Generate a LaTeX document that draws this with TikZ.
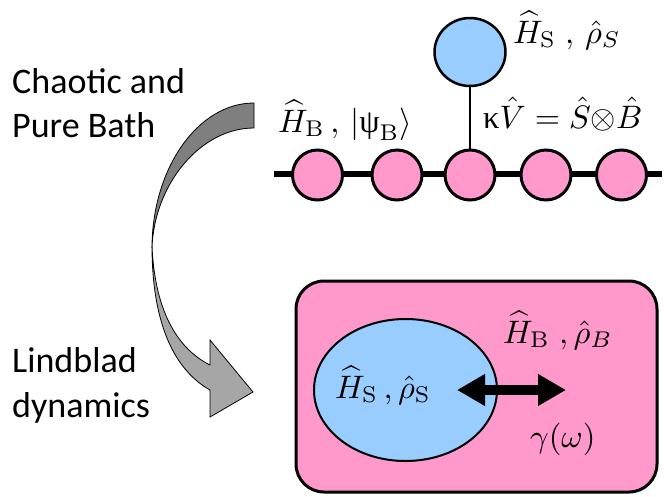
\documentclass[tikz,border=0pt]{standalone}
\usepackage{graphicx}
\usepackage{fontspec}
\setsansfont{Carlito}
\newfontfamily\grk{Liberation Serif}
\usetikzlibrary{shapes.geometric,arrows.meta}
\definecolor{pinkb}{HTML}{FF99CC}
\definecolor{bluec}{HTML}{99CCFF}
\definecolor{arrowdark}{HTML}{7F7F7F}
\definecolor{arrowlight}{HTML}{A6A6A6}
\newcommand\MathLbl[1]{\scalebox{3.25}{$#1$}}
\begin{document}
\begin{tikzpicture}[x=1pt,y=-1pt,
  lbl/.style={font=\sffamily\fontsize{36}{40}\selectfont, anchor=base west, inner sep=0pt},
  mlbl/.style={anchor=base west, inner sep=0pt},
  bath/.style={circle, draw=black, line width=3pt, fill=pinkb, minimum size=50pt, inner sep=0pt},
  sysnode/.style={ellipse, draw=black, line width=2.5pt, fill=bluec, inner sep=0pt},
  chain/.style={line width=6.5pt, draw=black},
  bigarrow/.style={draw=black, line width=0.8pt, line join=miter}
]
\useasboundingbox (0,0) rectangle (668,496);

% texts
\node[lbl] (t1) at (12,93) {Chaotic and};
\node[lbl] (t2) at (12,137) {Pure Bath};
\node[lbl] (t3) at (12,372) {Lindblad};
\node[lbl] (t4) at (12,417) {dynamics};

% curved arrow
\filldraw[bigarrow, fill=arrowdark] (254,103) .. controls (197.7,103) and (152,168.8) .. (152,248)
  .. controls (154,185) and (200,128) .. (254,128) -- cycle;
\filldraw[bigarrow, fill=arrowlight] (152,246) .. controls (152,330) and (178,372) .. (210,390)
  -- (210,417) -- (253,392) -- (210,340) -- (210,365)
  .. controls (180,350) and (155,315) .. (152,246) -- cycle;

% bath chain
\coordinate (cl) at (274,174);
\coordinate (cr) at (662,174);
\draw[chain] (cl) -- (cr);
\node[bath] (b1) at (317.5,175) {};
\node[bath] (b2) at (397,175) {};
\node[bath] (b3) at (470,175) {};
\node[bath] (b4) at (546,175) {};
\node[bath] (b5) at (621.5,175) {};

% system spin
\node[sysnode, minimum width=71pt, minimum height=68pt] (s) at (470,52) {};
\draw[line width=1.2pt] (s) -- (b3);

\node[mlbl] (lS) at (513,43) {\MathLbl{\widehat H_{\mathrm{S}}\;,\,\hat\rho_S}};
\node[mlbl] (lB) at (278,132) {\MathLbl{\widehat H_{\mathrm{B}}\,,\,|\mbox{\grk ψ}_{\mathrm{B}}\rangle}};
\node[mlbl] (lV) at (483,128) {\MathLbl{\mbox{\grk κ}\hat V = \hat S{\otimes}\hat B}};

% bottom box
\draw[line width=3pt, fill=pinkb, rounded corners=28pt] (296,281) rectangle (657,492);
\node[sysnode, line width=2pt, minimum width=183pt, minimum height=142pt] (se) at (405.5,390) {};
\node[mlbl] (lSS) at (335,398) {\MathLbl{\widehat H_{\mathrm{S}}\,,\hat\rho_{\mathrm{S}}}};
\node[mlbl] (lBB) at (503,343) {\MathLbl{\widehat H_{\mathrm{B}}\;,\hat\rho_B}};
\node[mlbl] (lg) at (530,447) {\MathLbl{\gamma(\omega)}};

\coordinate (al) at (457,390);
\coordinate (ar) at (566,390);
\draw[line width=10pt, {Triangle[length=28pt,width=30pt]}-{Triangle[length=28pt,width=30pt]}] (al) -- (ar);
\end{tikzpicture}
\end{document}
